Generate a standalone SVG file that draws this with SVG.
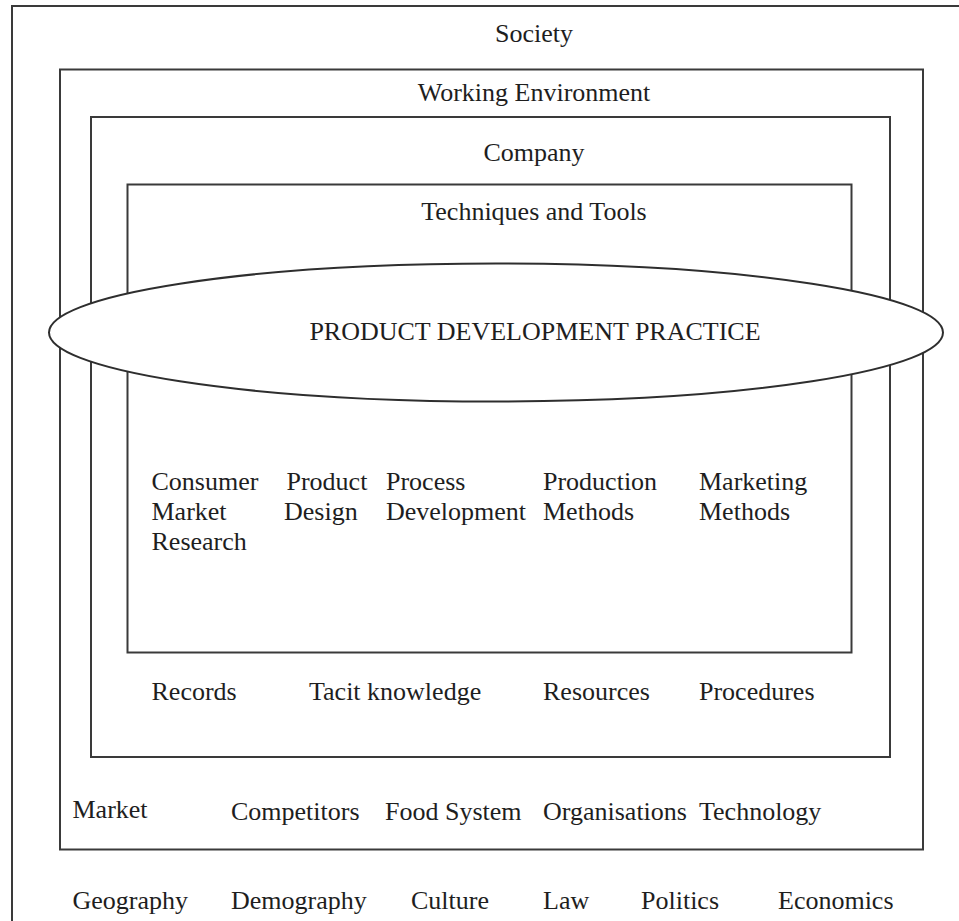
<svg xmlns="http://www.w3.org/2000/svg" width="959" height="921" viewBox="0 0 959 921">
<style>
.box{fill:none;stroke:#3a3a3a;stroke-width:2}
.ell{fill:#fff;stroke:#2e2e2e;stroke-width:2}
text{font-family:"Liberation Serif","Times New Roman",serif;font-size:26px;fill:#1e1e1e}
.c{text-anchor:middle}
</style>
<rect width="959" height="921" fill="#fff"/>
<g id="society">
<rect class="box" x="12" y="6" width="970" height="940"/>
<text class="c" x="534" y="42">Society</text>
<text x="72.5" y="909">Geography</text>
<text x="231" y="909">Demography</text>
<text x="411" y="909">Culture</text>
<text x="543" y="909">Law</text>
<text x="641" y="909">Politics</text>
<text x="778" y="909">Economics</text>
</g>
<g id="working-environment">
<rect class="box" x="60" y="69.5" width="863" height="780"/>
<text class="c" x="534" y="101">Working Environment</text>
<text x="72.5" y="818">Market</text>
<text x="231" y="820">Competitors</text>
<text x="385" y="820">Food System</text>
<text x="543" y="820">Organisations</text>
<text x="699" y="820">Technology</text>
</g>
<g id="company">
<rect class="box" x="91" y="117" width="799" height="640"/>
<text class="c" x="534" y="161">Company</text>
<text x="151.5" y="700">Records</text>
<text x="309" y="700">Tacit knowledge</text>
<text x="543" y="700">Resources</text>
<text x="699" y="700">Procedures</text>
</g>
<g id="techniques-and-tools">
<rect class="box" x="127.5" y="184.5" width="724" height="468"/>
<text class="c" x="534" y="220">Techniques and Tools</text>
<text x="151.5" y="490">Consumer</text>
<text x="151.5" y="520">Market</text>
<text x="151.5" y="550">Research</text>
<text x="286.5" y="490">Product</text>
<text x="284" y="520">Design</text>
<text x="386" y="490">Process</text>
<text x="386" y="520">Development</text>
<text x="543" y="490">Production</text>
<text x="543" y="520">Methods</text>
<text x="699" y="490">Marketing</text>
<text x="699" y="520">Methods</text>
</g>
<g id="product-development-practice">
<ellipse class="ell" cx="496" cy="332.5" rx="447" ry="69"/>
<text class="c" x="535" y="340">PRODUCT DEVELOPMENT PRACTICE</text>
</g>
<g id="connectors"/>
</svg>
